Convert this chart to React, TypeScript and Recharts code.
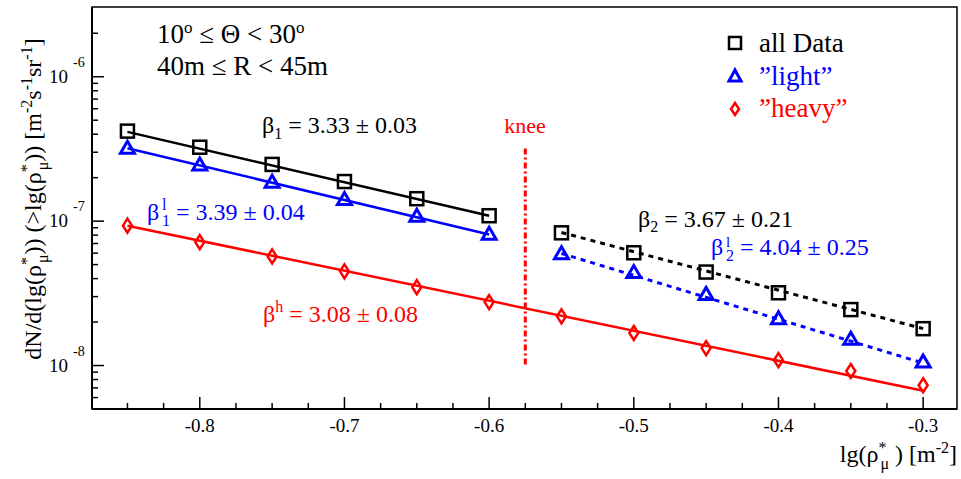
import React from 'react';
import { ComposedChart, Scatter, XAxis, YAxis, ReferenceLine, ReferenceArea } from 'recharts';

// lg(rho*_mu) bins
const lgRho = [-0.85, -0.8, -0.75, -0.7, -0.65, -0.6, -0.55, -0.5, -0.45, -0.4, -0.35, -0.3];
// integral flux values per class
const allData = [4.2e-7, 3.25e-7, 2.47e-7, 1.88e-7, 1.43e-7, 1.09e-7, 8.3e-8, 6.04e-8, 4.44e-8, 3.19e-8, 2.44e-8, 1.8e-8];
const light = [3.2e-7, 2.45e-7, 1.86e-7, 1.41e-7, 1.08e-7, 8.1e-8, 5.95e-8, 4.4e-8, 3.11e-8, 2.11e-8, 1.52e-8, 1.06e-8];
const heavy = [9.3e-8, 7.16e-8, 5.7e-8, 4.49e-8, 3.49e-8, 2.75e-8, 2.19e-8, 1.68e-8, 1.32e-8, 1.09e-8, 9.16e-9, 7.3e-9];

// fit line end points [x, y]
const fitAll1 = [[-0.85, 4.15e-7], [-0.6, 1.09e-7]];
const fitAll2 = [[-0.55, 8.35e-8], [-0.3, 1.8e-8]];
const fitLight1 = [[-0.85, 3.2e-7], [-0.6, 8.09e-8]];
const fitLight2 = [[-0.55, 5.97e-8], [-0.3, 1.04e-8]];
const fitHeavy = [[-0.85, 9.3e-8], [-0.3, 6.68e-9]];
const kneeLine = [[-0.575, 3.18e-7], [-0.575, 1e-8]];

const xDomain = [-0.8745, -0.2766];
const yDomain = [5e-9, 3.04e-6];
const xTicks = [-0.85, -0.825, -0.8, -0.775, -0.75, -0.725, -0.7, -0.675, -0.65, -0.625, -0.6, -0.575, -0.55,
  -0.525, -0.5, -0.475, -0.45, -0.425, -0.4, -0.375, -0.35, -0.325, -0.3];
const yTicks = [6e-9, 7e-9, 8e-9, 9e-9, 1e-8, 2e-8, 3e-8, 4e-8, 5e-8, 6e-8, 7e-8, 8e-8, 9e-8,
  1e-7, 2e-7, 3e-7, 4e-7, 5e-7, 6e-7, 7e-7, 8e-7, 9e-7, 1e-6, 2e-6];

const FONT = 'Liberation Serif, DejaVu Serif, serif';
const ff = { fontFamily: FONT };

const toPts = (ys: number[]) => lgRho.map((x, i) => ({ x, y: ys[i] }));
const seg = (p: number[][]) => p.map(([x, y]) => ({ x, y }));

const Square = (p: any) => (
  <rect x={p.cx - 6.5} y={p.cy - 6.5} width={13} height={13} fill="none" stroke="#000" strokeWidth={2.5} />
);
const Triangle = (p: any) => (
  <polygon points={`${p.cx},${p.cy - 7} ${p.cx - 7},${p.cy + 5} ${p.cx + 7},${p.cy + 5}`} fill="none" stroke="#0000ff" strokeWidth={3} />
);
const Diamond = (p: any) => (
  <polygon points={`${p.cx},${p.cy - 7} ${p.cx + 4.5},${p.cy} ${p.cx},${p.cy + 7} ${p.cx - 4.5},${p.cy}`} fill="none" stroke="#ff0000" strokeWidth={2.5} />
);

const XTick = (props: any) => {
  const { x, y, payload } = props;
  const v = payload.value;
  const major = Math.abs(v * 10 - Math.round(v * 10)) < 1e-6;
  return (
    <g>
      <line x1={x} x2={x} y1={y} y2={y - (major ? 12 : 6)} stroke="#000" strokeWidth={1.5} />
      {major && (
        <text x={x} y={y + 23} textAnchor="middle" fontSize={19} style={ff} fill="#000">
          {v.toFixed(1)}
        </text>
      )}
    </g>
  );
};

const YTick = (props: any) => {
  const { x, y, payload } = props;
  const v = payload.value;
  const e = Math.round(Math.log10(v));
  const major = Math.abs(v / Math.pow(10, e) - 1) < 1e-6;
  return (
    <g>
      <line x1={x} x2={x + (major ? 12 : 6)} y1={y} y2={y} stroke="#000" strokeWidth={1.5} />
      {major && (
        <g style={ff} fill="#000">
          <text x={68} y={y + 6} textAnchor="end" fontSize={19}>10</text>
          <text x={73} y={y - 10} fontSize={14}>{String(e)}</text>
        </g>
      )}
    </g>
  );
};

const Annotations = () => (
  <svg width={961} height={479} style={{ position: 'absolute', left: 0, top: 0, pointerEvents: 'none', ...ff }}>
    <text x={157} y={43} fontSize={27} fill="#000">
      10<tspan dy={-10} fontSize={17}>o</tspan><tspan dy={10}> ≤ Θ &lt; 30</tspan><tspan dy={-10} fontSize={17}>o</tspan>
    </text>
    <text x={157} y={75} fontSize={27} fill="#000">40m ≤ R &lt; 45m</text>

    <text x={262} y={133} fontSize={24} fill="#000">
      β<tspan dy={6} fontSize={16}>1</tspan><tspan dy={-6}> = 3.33 ± 0.03</tspan>
    </text>
    <text x={147} y={220} fontSize={24} fill="#0000ff">
      β<tspan x={162} dy={-10} fontSize={16}>l</tspan><tspan x={162} dy={16} fontSize={16}>1</tspan>
      <tspan x={170} dy={-6}> = 3.39 ± 0.04</tspan>
    </text>
    <text x={263} y={322} fontSize={24} fill="#ff0000">
      β<tspan dy={-10} fontSize={16}>h</tspan><tspan dy={10}> = 3.08 ± 0.08</tspan>
    </text>
    <text x={638} y={227} fontSize={24} fill="#000">
      β<tspan dy={5} fontSize={16}>2</tspan><tspan dy={-5}> = 3.67 ± 0.21</tspan>
    </text>
    <text x={711} y={255} fontSize={24} fill="#0000ff">
      β<tspan x={726} dy={-8} fontSize={15}>l</tspan><tspan x={726} dy={14} fontSize={16}>2</tspan>
      <tspan x={734} dy={-6}> = 4.04 ± 0.25</tspan>
    </text>
    <text x={525} y={133} fontSize={22} fill="#ff0000" textAnchor="middle">knee</text>

    {/* legend */}
    <rect x={729} y={37} width={12} height={12} fill="none" stroke="#000" strokeWidth={2.5} />
    <text x={759} y={52} fontSize={27} fill="#000">all Data</text>
    <polygon points="735,70 729,81 741,81" fill="none" stroke="#0000ff" strokeWidth={3} />
    <text x={759} y={85} fontSize={27} fill="#0000ff">”light”</text>
    <polygon points="735,103 739,109 735,115 731,109" fill="none" stroke="#ff0000" strokeWidth={2.5} />
    <text x={759} y={117} fontSize={27} fill="#ff0000">”heavy”</text>

    {/* axis titles */}
    <text transform="translate(41,199) rotate(-90)" textAnchor="middle" fontSize={24} fill="#000">
      dN/d(lg(ρ<tspan dy={-9} fontSize={16}>*</tspan><tspan dx={-6} dy={16} fontSize={16}>μ</tspan>
      <tspan dy={-7}>)) (&gt;lg(ρ</tspan><tspan dy={-9} fontSize={16}>*</tspan><tspan dx={-6} dy={16} fontSize={16}>μ</tspan>
      <tspan dy={-7}>)) [m</tspan><tspan dy={-9} fontSize={16}>-2</tspan><tspan dy={9}>s</tspan>
      <tspan dy={-9} fontSize={16}>-1</tspan><tspan dy={9}>sr</tspan><tspan dy={-9} fontSize={16}>-1</tspan>
      <tspan dy={9}>]</tspan>
    </text>
    <text x={957} y={462} textAnchor="end" fontSize={24} fill="#000">
      lg(ρ<tspan dy={-9} fontSize={16}>*</tspan><tspan dx={-6} dy={16} fontSize={16}>μ</tspan>
      <tspan dy={-7}> ) [m</tspan><tspan dy={-9} fontSize={16}>-2</tspan><tspan dy={9}>]</tspan>
    </text>
  </svg>
);

export default function App() {
  return (
    <div style={{ position: 'absolute', left: 0, top: 0, width: 961, height: 479, background: '#fff' }}>
      <ComposedChart width={961} height={479} margin={{ top: 7, right: 4, bottom: 0, left: 0 }}>
        <XAxis
          type="number"
          dataKey="x"
          domain={xDomain}
          ticks={xTicks}
          interval={0}
          allowDataOverflow
          height={70}
          tickSize={0}
          tickMargin={0}
          tickLine={false}
          tick={<XTick />}
          axisLine={{ stroke: '#000', strokeWidth: 2 }}
        />
        <YAxis
          type="number"
          dataKey="y"
          scale="log"
          domain={yDomain}
          ticks={yTicks}
          interval={0}
          allowDataOverflow
          width={92}
          tickSize={0}
          tickMargin={0}
          tickLine={false}
          tick={<YTick />}
          axisLine={{ stroke: '#000', strokeWidth: 2 }}
        />
        <ReferenceArea x1={xDomain[0]} x2={xDomain[1]} y1={yDomain[0]} y2={yDomain[1]} fill="none" stroke="#000" strokeWidth={1.5} ifOverflow="visible" />

        <ReferenceLine segment={seg(kneeLine)} stroke="#ff0000" strokeWidth={3} strokeDasharray="6 3 2 3" />
        <ReferenceLine segment={seg(fitAll1)} stroke="#000" strokeWidth={2.5} />
        <ReferenceLine segment={seg(fitLight1)} stroke="#0000ff" strokeWidth={2.5} />
        <ReferenceLine segment={seg(fitAll2)} stroke="#000" strokeWidth={3} strokeDasharray="5 5" />
        <ReferenceLine segment={seg(fitLight2)} stroke="#0000ff" strokeWidth={3} strokeDasharray="5 5" />
        <ReferenceLine segment={seg(fitHeavy)} stroke="#ff0000" strokeWidth={2.5} />

        <Scatter data={toPts(allData)} shape={Square} isAnimationActive={false} />
        <Scatter data={toPts(light)} shape={Triangle} isAnimationActive={false} />
        <Scatter data={toPts(heavy)} shape={Diamond} isAnimationActive={false} />
      </ComposedChart>
      <Annotations />
    </div>
  );
}
